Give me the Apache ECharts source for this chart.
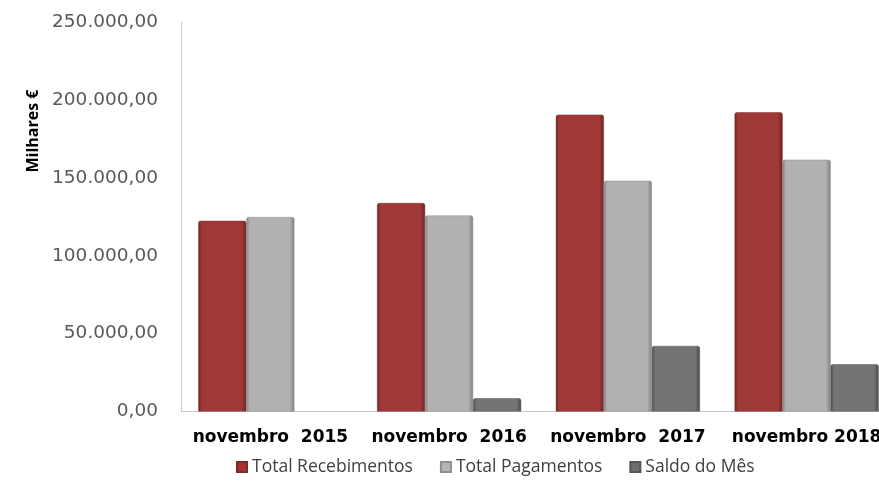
<!DOCTYPE html>
<html>
<head>
<meta charset="utf-8">
<script src="https://cdn.jsdelivr.net/npm/echarts@6/dist/echarts.min.js"></script>
<style>html,body{margin:0;padding:0;background:#fff}#c{width:879px;height:485px}</style>
</head>
<body>
<div id="c"></div>
<script>
const categories = ['novembro  2015', 'novembro  2016', 'novembro  2017', 'novembro 2018'];
const totalRecebimentos = [122400, 133800, 190500, 192000];
const totalPagamentos = [124800, 125800, 148100, 161600];
const saldoDoMes = [-2400, 8500, 42100, 30300];
const yTicks = { min: 0, max: 250000, interval: 50000 };
const seriesNames = ['Total Recebimentos', 'Total Pagamentos', 'Saldo do Mês'];

function fmt(v) {
  const s = Math.round(v).toString().replace(/\B(?=(\d{3})+(?!\d))/g, '.');
  return s + ',00';
}
function grad(edge, base) {
  return new echarts.graphic.LinearGradient(0, 0, 1, 0, [
    { offset: 0, color: edge },
    { offset: 0.07, color: base },
    { offset: 0.9, color: base },
    { offset: 1, color: edge }
  ]);
}
const styles = [
  { color: grad('#6e2322', '#9f3a39'), border: '#7c2b2a', legend: '#a8302e' },
  { color: grad('#808080', '#b1b1b1'), border: '#8f8f8f', legend: '#b5b5b5' },
  { color: grad('#4a4a4a', '#747474'), border: '#555555', legend: '#6e6e6e' }
];
const data = [totalRecebimentos, totalPagamentos, saldoDoMes];

const chart = echarts.init(document.getElementById('c'), null, { renderer: 'canvas' });
chart.setOption({
  animation: false,
  grid: { left: 181, top: 22, height: 389.5, width: 715, containLabel: false, outerBoundsMode: 'none' },
  legend: {
    left: 231, top: 453,
    icon: 'rect', itemWidth: 10, itemHeight: 10, itemGap: 27,
    textStyle: { color: '#404040', fontSize: 17.5, fontFamily: 'Open Sans' },
    data: seriesNames.map((n, i) => ({ name: n, itemStyle: { color: styles[i].legend } }))
  },
  xAxis: {
    type: 'category', data: categories,
    axisLine: { lineStyle: { color: '#c8c8c8', width: 1 } },
    axisTick: { show: false },
    axisLabel: { color: '#000', fontWeight: 'bold', fontSize: 17, fontFamily: 'DejaVu Sans', margin: 18, interval: 0 }
  },
  yAxis: {
    type: 'value', min: yTicks.min, max: yTicks.max, interval: yTicks.interval,
    axisLine: { show: true, lineStyle: { color: '#c8c8c8', width: 1 } },
    axisTick: { show: false },
    splitLine: { show: false },
    axisLabel: { color: '#595959', fontSize: 18.5, fontFamily: 'DejaVu Sans', margin: 23, formatter: fmt }
  },
  graphic: [{
    type: 'text', x: 33, y: 131, rotation: Math.PI / 2,
    style: { text: 'Milhares €', fill: '#000', font: 'bold 16px "Open Sans"', align: 'center', verticalAlign: 'middle' }
  }],
  series: seriesNames.map((n, i) => ({
    name: n, type: 'bar', data: data[i], barGap: '0%', barCategoryGap: '19.4%', clip: true,
    itemStyle: { color: styles[i].color, borderColor: styles[i].border, borderWidth: 0.5, borderRadius: [2, 2, 0, 0] }
  }))
});
</script>
</body>
</html>
